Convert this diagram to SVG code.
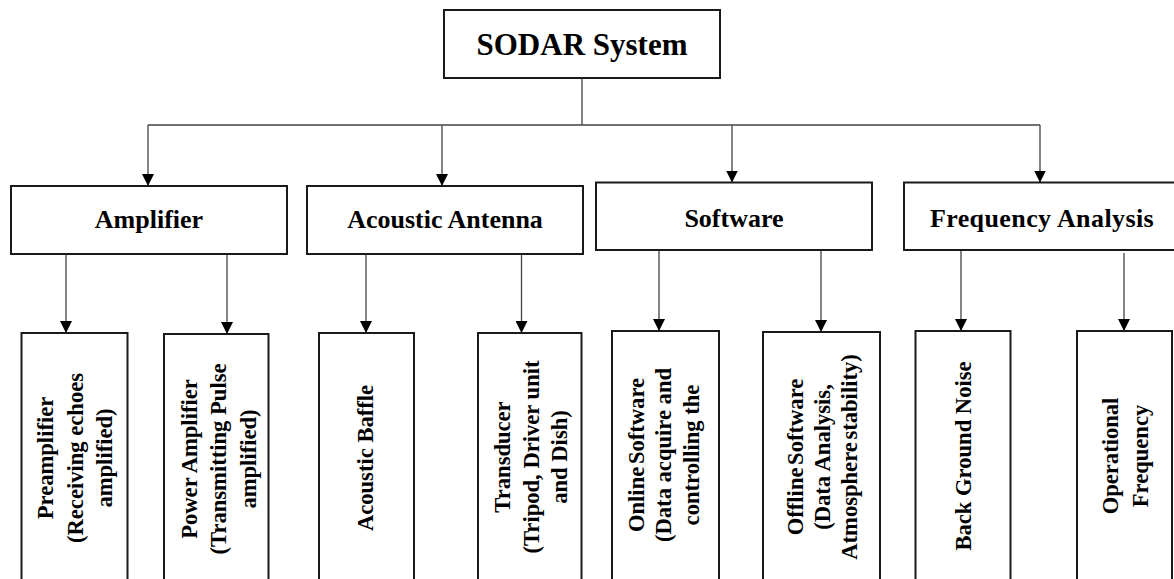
<svg xmlns="http://www.w3.org/2000/svg" width="1174" height="579" viewBox="0 0 1174 579">
<style>
.box{fill:#fff;stroke:#1a1a1a;stroke-width:2}
.t{font-family:"Liberation Serif","Times New Roman",serif;font-weight:bold;fill:#000;text-anchor:middle}
.t1{font-size:31px}
.t2{font-size:26px}
.t3{font-size:22.6px}
.con{fill:none;stroke:#444;stroke-width:1.3}
</style>
<defs>
<marker id="arr" viewBox="0 0 12 12" markerWidth="12" markerHeight="12" refX="12" refY="6" orient="auto" markerUnits="userSpaceOnUse">
<path d="M0,0 L12,6 L0,12 z" fill="#000"/>
</marker>
</defs>
<rect width="1174" height="579" fill="#fff"/>
<g id="connectors">
<path class="con" d="M582,78 V125 M148,125 H1040"/>
<path class="con" d="M148,125 V186" marker-end="url(#arr)"/>
<path class="con" d="M442,125 V186" marker-end="url(#arr)"/>
<path class="con" d="M732,125 V182.5" marker-end="url(#arr)"/>
<path class="con" d="M1040,125 V182.5" marker-end="url(#arr)"/>
<path class="con" d="M66,254 V333" marker-end="url(#arr)"/>
<path class="con" d="M227,254 V334" marker-end="url(#arr)"/>
<path class="con" d="M366,254 V333" marker-end="url(#arr)"/>
<path class="con" d="M521.5,254 V333" marker-end="url(#arr)"/>
<path class="con" d="M659,250 V331" marker-end="url(#arr)"/>
<path class="con" d="M821,250 V332" marker-end="url(#arr)"/>
<path class="con" d="M961,250 V331" marker-end="url(#arr)"/>
<path class="con" d="M1124,253 V331" marker-end="url(#arr)"/>
</g>
<g id="sodar">
<rect class="box" x="444" y="10" width="276" height="68"/>
<text class="t t1" x="582" y="54.5">SODAR System</text>
</g>
<g id="amplifier">
<rect class="box" x="11" y="186" width="276" height="68"/>
<text class="t t2" x="149" y="228">Amplifier</text>
</g>
<g id="acoustic-antenna">
<rect class="box" x="307" y="186" width="276" height="68"/>
<text class="t t2" x="445" y="228">Acoustic Antenna</text>
</g>
<g id="software">
<rect class="box" x="596" y="182.5" width="276" height="67.5"/>
<text class="t t2" x="734" y="226.5">Software</text>
</g>
<g id="frequency-analysis">
<rect class="box" x="904" y="182.5" width="280" height="67.5"/>
<text class="t t2" x="1042" y="226.5" letter-spacing="0.4">Frequency Analysis</text>
</g>
<g id="preamplifier">
<rect class="box" x="21.5" y="333" width="106" height="260"/>
<g transform="translate(0,458) rotate(-90)">
<text class="t t3" x="0" y="53">Preamplifier</text>
<text class="t t3" x="0" y="82.5">(Receiving echoes</text>
<text class="t t3" x="0" y="112">amplified)</text>
</g>
</g>
<g id="power-amplifier">
<rect class="box" x="164" y="334" width="104.5" height="260"/>
<g transform="translate(0,459) rotate(-90)">
<text class="t t3" x="0" y="197">Power Amplifier</text>
<text class="t t3" x="0" y="226">(Transmitting Pulse</text>
<text class="t t3" x="0" y="255.5">amplified)</text>
</g>
</g>
<g id="acoustic-baffle">
<rect class="box" x="319" y="333" width="95" height="260"/>
<g transform="translate(0,458) rotate(-90)">
<text class="t t3" x="0" y="373">Acoustic Baffle</text>
</g>
</g>
<g id="transducer">
<rect class="box" x="478" y="333" width="103.5" height="260"/>
<g transform="translate(0,457) rotate(-90)">
<text class="t t3" x="0" y="510">Transducer</text>
<text class="t t3" x="0" y="538.5">(Tripod, Driver unit</text>
<text class="t t3" x="0" y="567">and Dish)</text>
</g>
</g>
<g id="online-software">
<rect class="box" x="612" y="331" width="107" height="260"/>
<g transform="translate(0,455) rotate(-90)">
<text class="t t3" x="0" y="643.5" word-spacing="-3">Online Software</text>
<text class="t t3" x="0" y="671">(Data acquire and</text>
<text class="t t3" x="0" y="698.5">controlling the</text>
</g>
</g>
<g id="offline-software">
<rect class="box" x="763" y="332" width="117" height="260"/>
<g transform="translate(0,457) rotate(-90)">
<text class="t t3" x="0" y="803" word-spacing="-3">Offline Software</text>
<text class="t t3" x="0" y="830">(Data Analysis,</text>
<text class="t t3" x="0" y="857" word-spacing="-3">Atmosphere stability)</text>
</g>
</g>
<g id="back-ground-noise">
<rect class="box" x="915.5" y="331" width="95" height="260"/>
<g transform="translate(0,456) rotate(-90)">
<text class="t t3" x="0" y="970.5">Back Ground Noise</text>
</g>
</g>
<g id="operational-frequency">
<rect class="box" x="1077" y="331" width="95" height="260"/>
<g transform="translate(0,456) rotate(-90)">
<text class="t t3" x="0" y="1117.5">Operational</text>
<text class="t t3" x="0" y="1147.5">Frequency</text>
</g>
</g>
</svg>
